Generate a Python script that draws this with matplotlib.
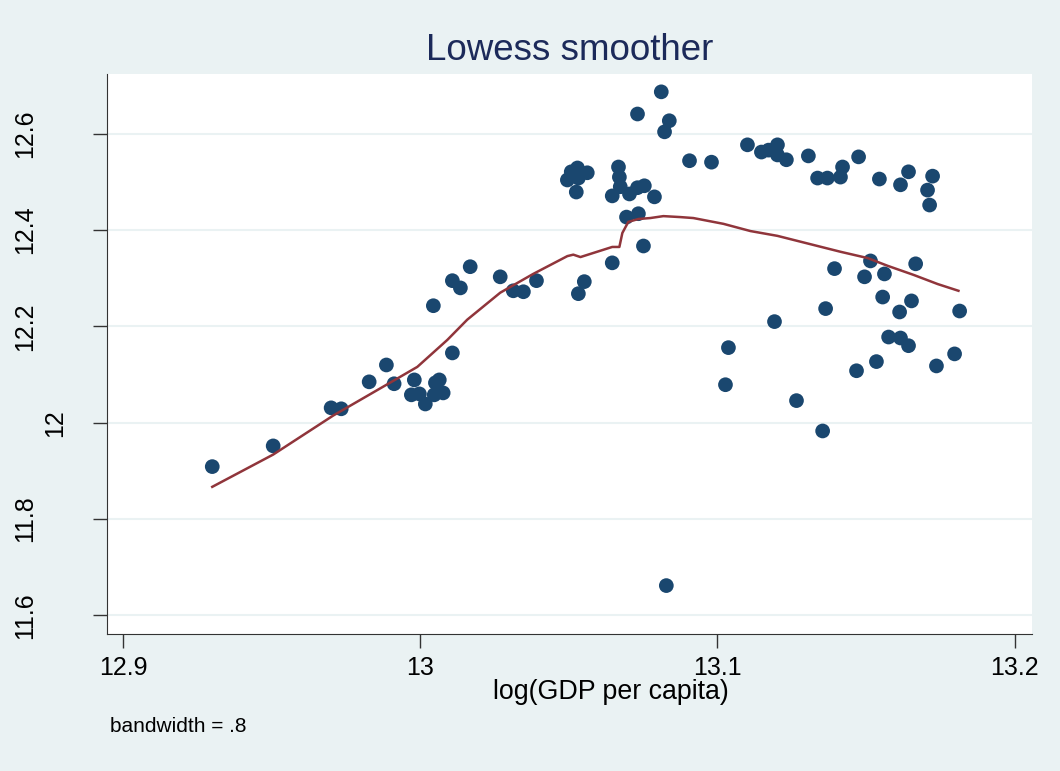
import matplotlib
matplotlib.use("Agg")
import matplotlib.pyplot as plt
import matplotlib.transforms as mtransforms

plt.rcParams["font.family"] = ["Liberation Sans", "DejaVu Sans"]

NAVY = "#1a476f"   # 점 색 (Stata s2color)
MAROON = "#90353b"  # lowess 선
BG = "#eaf2f3"
TITLE = "#1c2a5a"

# 산점도 데이터: log(GDP per capita) 대 y
gdp = [12.930, 12.9505, 12.970, 12.9734, 12.9828, 12.9886, 12.9912, 12.998, 12.997, 12.9997,
       13.0017, 13.0051, 13.0064, 13.0047, 13.0077, 13.0108, 13.0044, 13.0108, 13.0135, 13.0168,
       13.0269, 13.0313, 13.0347, 13.0391, 13.0532, 13.0552, 13.0646, 13.0751, 13.0694, 13.0734,
       13.0495, 13.0508, 13.0529, 13.0562, 13.0525, 13.0532, 13.0667, 13.0670, 13.0673, 13.0646,
       13.0704, 13.0731, 13.0754, 13.0788, 13.0811, 13.0731, 13.0838, 13.0822, 13.0906, 13.0980,
       13.1101, 13.1148, 13.1172, 13.1202, 13.1202, 13.1232, 13.1306, 13.1337, 13.1370, 13.1421,
       13.1414, 13.1475, 13.1545, 13.1616, 13.1643, 13.1724, 13.1707, 13.1714, 13.1394, 13.1515,
       13.1495, 13.1562, 13.1667, 13.1556, 13.1653, 13.1613, 13.1815, 13.1364, 13.1192, 13.1037,
       13.1027, 13.1266, 13.1354, 13.1576, 13.1616, 13.1643, 13.1535, 13.1468, 13.1737, 13.1798,
       13.0828]
yval = [11.909, 11.952, 12.031, 12.029, 12.085, 12.120, 12.081, 12.089, 12.058, 12.060,
        12.039, 12.083, 12.089, 12.058, 12.062, 12.145, 12.243, 12.295, 12.280, 12.324,
        12.303, 12.274, 12.272, 12.295, 12.268, 12.293, 12.332, 12.367, 12.427, 12.434,
        12.504, 12.521, 12.529, 12.519, 12.479, 12.508, 12.531, 12.510, 12.490, 12.471,
        12.475, 12.488, 12.492, 12.469, 12.687, 12.641, 12.627, 12.604, 12.544, 12.541,
        12.577, 12.562, 12.566, 12.577, 12.556, 12.546, 12.554, 12.508, 12.508, 12.531,
        12.510, 12.552, 12.506, 12.494, 12.521, 12.512, 12.483, 12.452, 12.320, 12.336,
        12.303, 12.309, 12.330, 12.261, 12.253, 12.230, 12.232, 12.237, 12.210, 12.156,
        12.079, 12.046, 11.983, 12.178, 12.176, 12.160, 12.127, 12.108, 12.118, 12.143,
        11.662]

# lowess 곡선
smooth_x = [12.930, 12.9505, 12.9707, 12.9909, 12.999, 13.0091, 13.0158, 13.0269, 13.0380, 13.0495,
            13.0515, 13.0539, 13.0646, 13.0670, 13.0680, 13.0700, 13.0734, 13.0774, 13.0818, 13.0875,
            13.0919, 13.1020, 13.1111, 13.1202, 13.1279, 13.1414, 13.1505, 13.1572, 13.1660, 13.1741,
            13.1811]
smooth_y = [11.867, 11.934, 12.015, 12.087, 12.116, 12.172, 12.214, 12.270, 12.309, 12.346,
            12.349, 12.344, 12.365, 12.365, 12.394, 12.417, 12.423, 12.425, 12.429, 12.427,
            12.425, 12.413, 12.398, 12.388, 12.376, 12.355, 12.342, 12.326, 12.307, 12.288,
            12.274]

xticks = [12.9, 13.0, 13.1, 13.2]
xtick_labels = ["12.9", "13", "13.1", "13.2"]
yticks = [11.6, 11.8, 12.0, 12.2, 12.4, 12.6]
ytick_labels = ["11.6", "11.8", "12", "12.2", "12.4", "12.6"]

fig = plt.figure(figsize=(10.6, 7.71), dpi=100, facecolor=BG)
ax = fig.add_axes([0.101, 0.178, 0.873, 0.726])
ax.set_facecolor("white")

ax.scatter(gdp, yval, s=112, color=NAVY, edgecolors="none", zorder=3)
ax.plot(smooth_x, smooth_y, color=MAROON, lw=1.8, zorder=4)

ax.set_xlim(12.8946, 13.206)
ax.set_ylim(11.562, 12.724)
ax.set_xticks(xticks)
ax.set_xticklabels(xtick_labels, fontsize=18)
ax.set_yticks(yticks)
ax.set_yticklabels([])
ax.tick_params(length=10, width=1, color="#333333", pad=6)
ax.grid(axis="y", color=BG, lw=1.5)
ax.set_axisbelow(True)
ax.spines[["top", "right"]].set_visible(False)
for s in ("left", "bottom"):
    ax.spines[s].set_color("#333333")

# y 눈금 라벨: Stata처럼 세로로, 짧은 라벨은 축 쪽으로 붙음
ytf = mtransforms.blended_transform_factory(fig.transFigure, ax.transData)
for v, lab in zip(yticks, ytick_labels):
    xpos = 55 / 1060 if len(lab) <= 2 else 25 / 1060
    ax.text(xpos, v, lab, transform=ytf, rotation=90, ha="center", va="center",
            fontsize=18, clip_on=False)

fig.text(611 / 1060, 1 - 692 / 771, "log(GDP per capita)", ha="center", va="center", fontsize=19.3)
fig.text(570 / 1060, 1 - 50 / 771, "Lowess smoother", ha="center", va="center", fontsize=26.5, color=TITLE)
fig.text(110 / 1060, 1 - 727 / 771, "bandwidth = .8", ha="left", va="center", fontsize=15)

fig.savefig("out.png", facecolor=BG)
